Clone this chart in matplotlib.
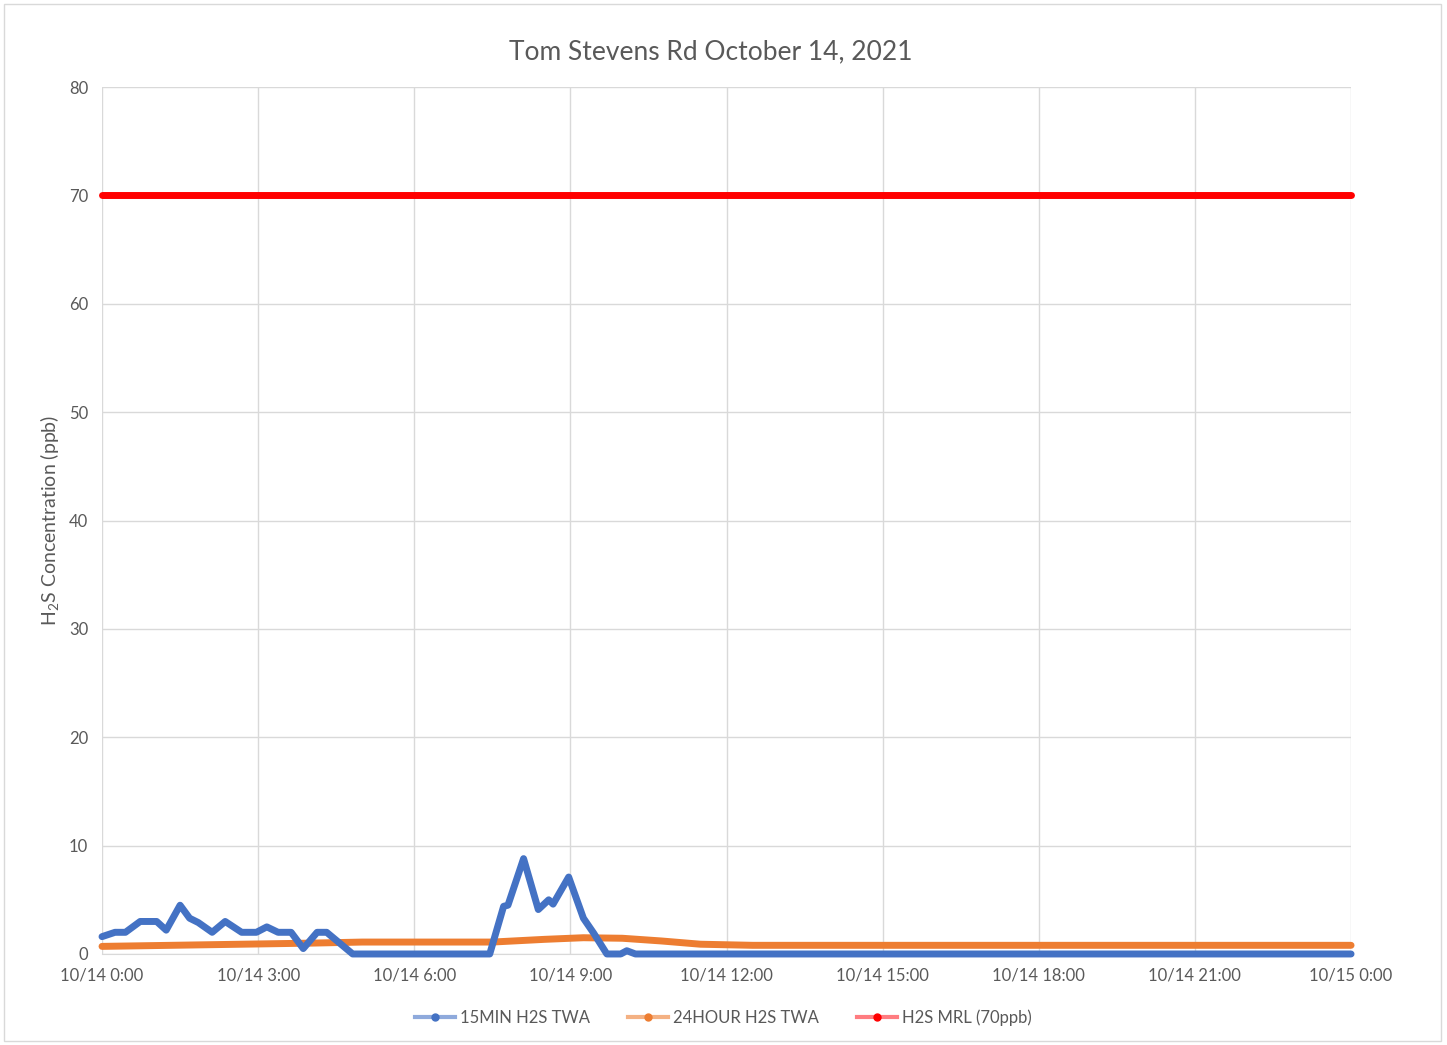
import numpy as np
import matplotlib
matplotlib.use("Agg")
import matplotlib.pyplot as plt
from matplotlib.lines import Line2D
from matplotlib.patches import Rectangle

plt.rcParams['font.family'] = ['Lato', 'DejaVu Sans']
plt.rcParams['mathtext.default'] = 'regular'

# Datos (hora del dia, ppb)
t_15min = ["0:00", "0:15", "0:27", "0:44", "1:03", "1:14", "1:30", "1:41", "1:51", "2:07",
           "2:22", "2:41", "2:58", "3:10", "3:23", "3:38", "3:52", "4:08", "4:19", "4:34",
           "4:49", "5:00", "7:27", "7:43", "7:48", "8:06", "8:23", "8:35", "8:40", "8:58",
           "9:15", "9:27", "9:42", "9:58", "10:05", "10:15", "24:00"]
v_15min = [1.6, 2.0, 2.0, 3.0, 3.0, 2.2, 4.5, 3.3, 2.9, 2.0,
           3.0, 2.0, 2.0, 2.5, 2.0, 2.0, 0.5, 2.0, 2.0, 1.0,
           0.0, 0.0, 0.0, 4.4, 4.5, 8.8, 4.1, 5.0, 4.6, 7.1,
           3.3, 1.9, 0.0, 0.0, 0.3, 0.0, 0.0]

t_24h = ["0:00", "2:00", "4:00", "5:00", "7:30", "8:30", "9:15", "10:00", "10:45", "11:30",
         "12:30", "24:00"]
v_24h = [0.7, 0.85, 1.0, 1.1, 1.1, 1.35, 1.5, 1.45, 1.2, 0.9, 0.8, 0.8]

t_mrl = ["0:00", "24:00"]
v_mrl = [70, 70]

xtick_labels = ["10/14 0:00", "10/14 3:00", "10/14 6:00", "10/14 9:00", "10/14 12:00",
                "10/14 15:00", "10/14 18:00", "10/14 21:00", "10/15 0:00"]


def horas(lista):
    return [int(s.split(":")[0]) + int(s.split(":")[1]) / 60 for s in lista]


azul = '#4472C4'
naranja = '#ED7D31'
rojo = '#FF0000'
gris = '#595959'

fig = plt.figure(figsize=(14.47, 10.45), dpi=100)
ax = fig.add_axes([0.0705, 0.0871, 0.8632, 0.8296])

ax.plot(horas(t_mrl), v_mrl, color=rojo, lw=5, solid_capstyle='round', clip_on=False, zorder=3)
ax.plot(horas(t_24h), v_24h, color=naranja, lw=5, solid_capstyle='round',
        solid_joinstyle='round', clip_on=False, zorder=3)
ax.plot(horas(t_15min), v_15min, color=azul, lw=5, solid_capstyle='round',
        solid_joinstyle='round', clip_on=False, zorder=4)

ax.set_xlim(0, 24)
ax.set_ylim(0, 80)
ax.set_xticks(np.arange(0, 25, 3))
ax.set_xticklabels(xtick_labels)
ax.set_yticks(np.arange(0, 81, 10))
ax.tick_params(axis='both', length=0, labelsize=12, colors=gris, pad=10)
ax.grid(True, color='#D9D9D9', lw=1)
ax.set_axisbelow(True)
for lado in ['top', 'right', 'left']:
    ax.spines[lado].set_visible(False)
ax.spines['bottom'].set_color('#D9D9D9')
ax.spines['bottom'].set_zorder(1)

ax.set_ylabel('H$_2$S Concentration (ppb)', fontsize=14, color=gris, labelpad=6)
ax.set_title('Tom Stevens Rd October 14, 2021', fontsize=19, color=gris, pad=20, x=0.487)

# Leyenda estilo Excel
handles = [
    Line2D([], [], color='#8FAADC', lw=3, marker='o', markersize=5, markerfacecolor=azul, markeredgecolor=azul),
    Line2D([], [], color='#F4B183', lw=3, marker='o', markersize=5, markerfacecolor=naranja, markeredgecolor=naranja),
    Line2D([], [], color='#FF7C80', lw=3, marker='o', markersize=5, markerfacecolor=rojo, markeredgecolor=rojo),
]
etiquetas = ['15MIN H2S TWA', '24HOUR H2S TWA', 'H2S MRL (70ppb)']
leg = fig.legend(handles, etiquetas, loc='center', bbox_to_anchor=(0.5, 0.026), ncol=3,
                 frameon=False, fontsize=12, handlelength=2.4, handletextpad=0.3, columnspacing=2.3)
for txt in leg.get_texts():
    txt.set_color(gris)

# Borde del grafico
fig.patches.append(Rectangle((0.003, 0.004), 0.993, 0.992, transform=fig.transFigure,
                             fill=False, edgecolor='#D9D9D9', lw=1))

plt.savefig('out.png', dpi=100)
